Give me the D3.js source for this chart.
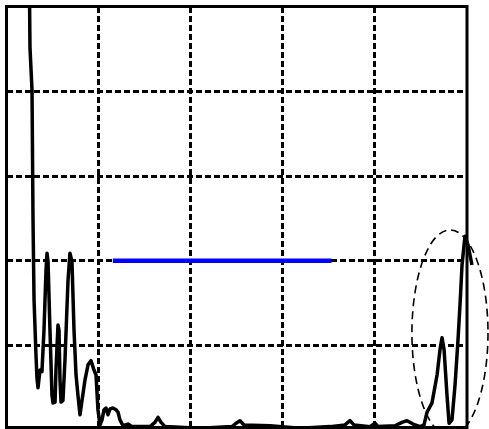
<!DOCTYPE html>
<html>
<head>
<meta charset="utf-8">
<script src="https://cdn.jsdelivr.net/npm/d3@7"></script>
<style>
  html, body { margin: 0; padding: 0; background: #fff; }
  svg { display: block; }
</style>
</head>
<body>
<svg id="chart" width="489" height="429"></svg>
<script>
// Signal trace (x, amplitude)
const traceX = [0.250, 0.255, 0.277, 0.288, 0.299, 0.320, 0.331, 0.342, 0.364, 0.385,
  0.407, 0.429, 0.440, 0.451, 0.472, 0.494, 0.505, 0.527, 0.537, 0.559,
  0.570, 0.581, 0.592, 0.613, 0.635, 0.668, 0.689, 0.711, 0.733, 0.755,
  0.776, 0.798, 0.820, 0.852, 0.885, 0.917, 0.950, 0.972, 0.993, 1.015,
  1.037, 1.059, 1.080, 1.102, 1.124, 1.156, 1.189, 1.211, 1.232, 1.265,
  1.319, 1.363, 1.558, 1.612, 1.645, 1.678, 1.721, 2.101, 2.448, 2.492,
  2.535, 2.579, 2.861, 3.187, 3.513, 3.675, 3.730, 3.773, 3.947, 4.001,
  4.034, 4.218, 4.294, 4.349, 4.414, 4.490, 4.533, 4.566, 4.620, 4.675,
  4.707, 4.729, 4.751, 4.783, 4.805, 4.837, 4.870, 4.902, 4.924, 4.946,
  4.978, 5.011, 5.054];
const traceY = [5.10, 4.52, 4.02, 2.48, 1.54, 0.89, 0.61, 0.50, 0.71, 0.69,
  1.18, 1.89, 2.09, 1.99, 1.18, 0.41, 0.32, 0.33, 0.71, 1.24,
  1.18, 0.59, 0.33, 0.35, 0.83, 1.77, 2.09, 1.99, 1.18, 0.65,
  0.41, 0.18, 0.35, 0.59, 0.77, 0.82, 0.71, 0.65, 0.24, 0.06,
  0.12, 0.24, 0.26, 0.18, 0.25, 0.26, 0.24, 0.21, 0.12, 0.05,
  0.07, 0.04, 0.04, 0.09, 0.15, 0.09, 0.04, 0.02, 0.04, 0.08,
  0.11, 0.06, 0.05, 0.02, 0.04, 0.06, 0.11, 0.06, 0.04, 0.08,
  0.04, 0.05, 0.09, 0.11, 0.07, 0.04, 0.06, 0.21, 0.32, 0.65,
  0.95, 1.09, 0.95, 0.41, 0.08, 0.12, 0.53, 1.06, 1.48, 1.95,
  2.29, 2.19, 1.95];

// Threshold level and its span
const thresholdLevel = 2.0;
const thresholdSpan = [1.155, 3.53];

// Highlighted region (centre and radii in data units)
const regionCenter = [4.815, 1.147];
const regionRadii = [0.413, 1.218];

// Grid positions
const gridTicks = [1, 2, 3, 4];

const svg = d3.select("#chart");
const x = d3.scaleLinear().domain([0, 5]).range([6.5, 467]);
const y = d3.scaleLinear().domain([0, 5]).range([430, 7]);

// dashed grid
const grid = svg.append("g")
  .attr("stroke", "#000")
  .attr("stroke-width", 3)
  .attr("stroke-dasharray", "6,3")
  .attr("shape-rendering", "crispEdges");
grid.selectAll("line.v").data(gridTicks).join("line")
  .attr("class", "v")
  .attr("x1", d => x(d)).attr("x2", d => x(d))
  .attr("y1", 7).attr("y2", 429);
grid.selectAll("line.h").data(gridTicks).join("line")
  .attr("class", "h")
  .attr("x1", 6.5).attr("x2", 467)
  .attr("y1", d => y(d)).attr("y2", d => y(d));

// threshold
svg.append("line")
  .attr("x1", x(thresholdSpan[0])).attr("x2", x(thresholdSpan[1]))
  .attr("y1", y(thresholdLevel)).attr("y2", y(thresholdLevel))
  .attr("stroke", "#0000ff")
  .attr("stroke-width", 4.5);

// trace, clipped at the top of the frame
svg.append("clipPath").attr("id", "topclip")
  .append("rect").attr("x", 0).attr("y", 7).attr("width", 489).attr("height", 430);

const pts = traceX.map((d, i) => [d, traceY[i]]);
svg.append("path")
  .datum(pts)
  .attr("clip-path", "url(#topclip)")
  .attr("fill", "none")
  .attr("stroke", "#000")
  .attr("stroke-width", 3.5)
  .attr("stroke-linejoin", "round")
  .attr("d", d3.line().x(d => x(d[0])).y(d => y(d[1])));

// frame
svg.append("rect")
  .attr("x", 6.5).attr("y", 6.5)
  .attr("width", 460.5).attr("height", 421)
  .attr("fill", "none")
  .attr("stroke", "#000")
  .attr("stroke-width", 3);

// dashed ellipse around the late peak
svg.append("ellipse")
  .attr("cx", x(regionCenter[0])).attr("cy", y(regionCenter[1]))
  .attr("rx", x(regionRadii[0]) - x(0))
  .attr("ry", y(0) - y(regionRadii[1]))
  .attr("fill", "none")
  .attr("stroke", "#000")
  .attr("stroke-width", 1.6)
  .attr("stroke-dasharray", "8,5");
</script>
</body>
</html>
